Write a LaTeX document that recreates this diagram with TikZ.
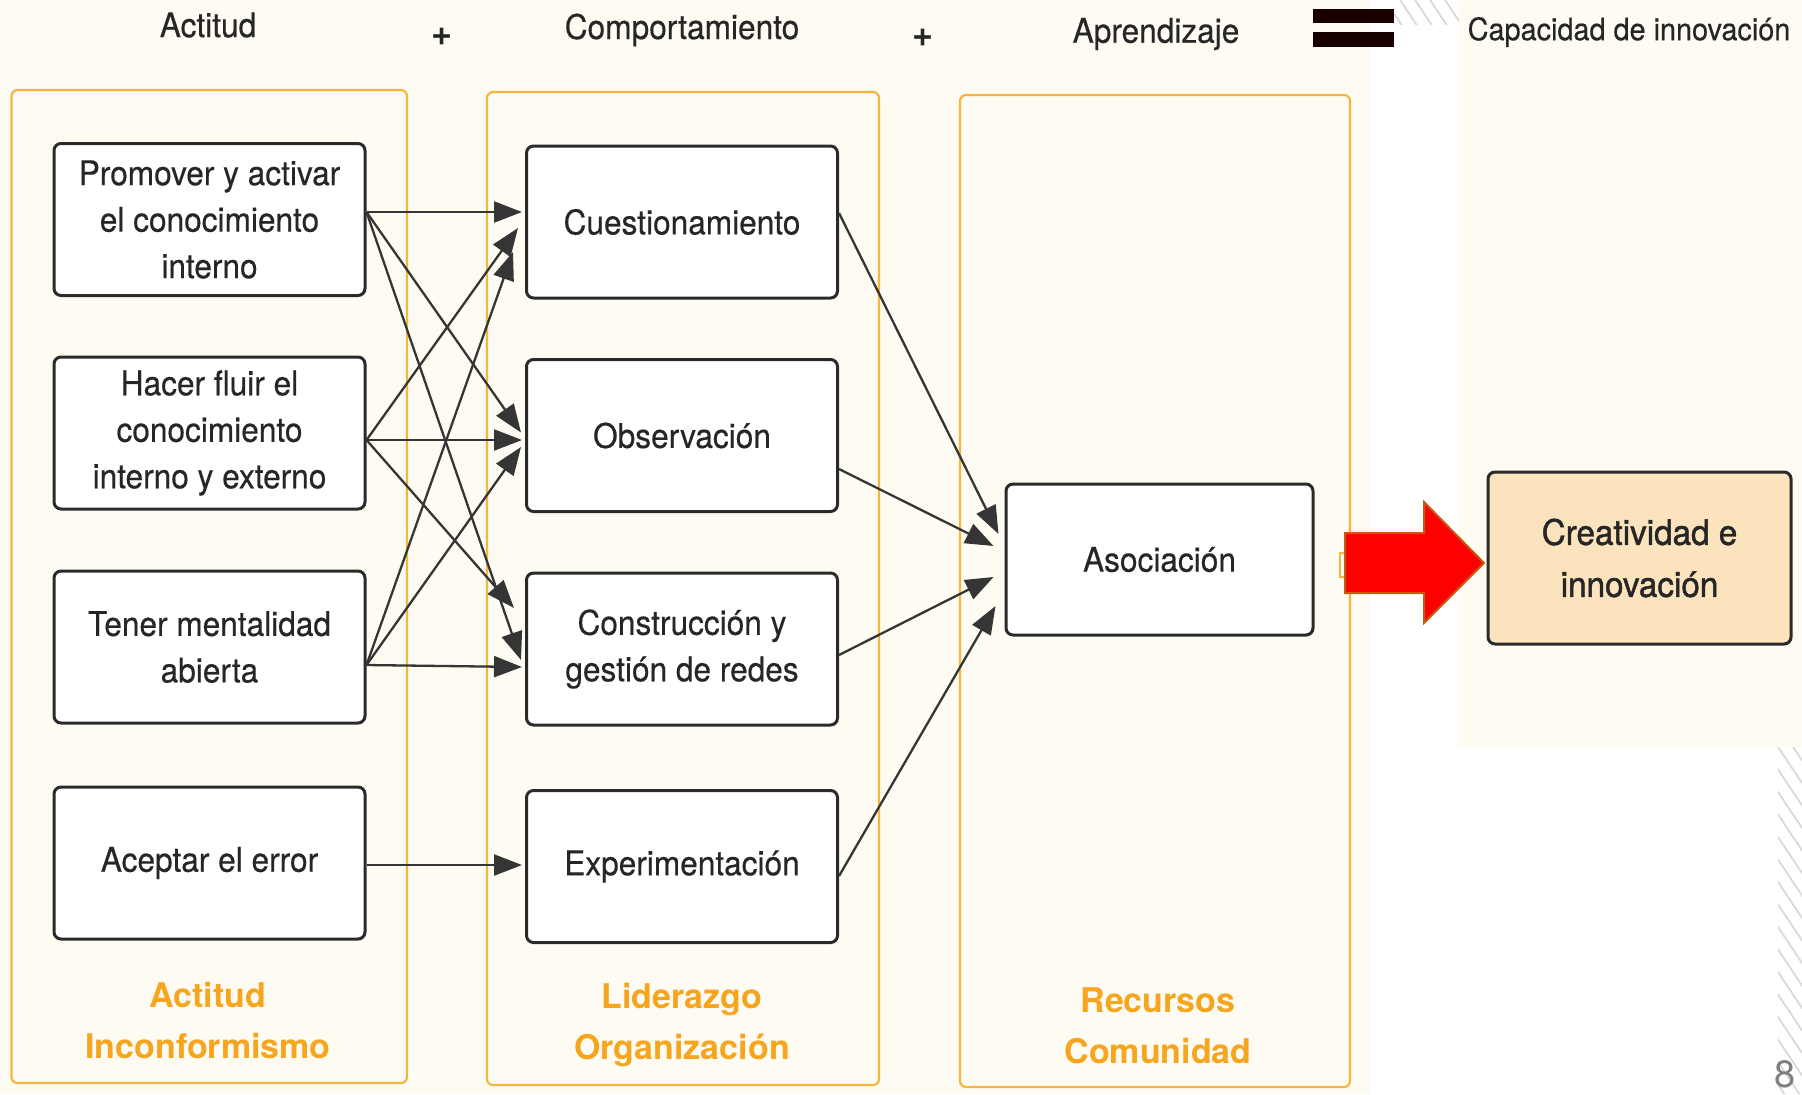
\documentclass[tikz,border=0pt]{standalone}
\usepackage{fontspec}
\setmainfont{TeX Gyre Heros}
\newfontfamily\narrowfont[FakeStretch=0.93,FakeBold=0.4]{TeX Gyre Heros}
\newfontfamily\semibfont[FakeStretch=0.95,FakeBold=1.3]{TeX Gyre Heros}
\usetikzlibrary{arrows.meta,calc}
\definecolor{cream}{HTML}{FEFCF2}
\definecolor{orng}{HTML}{F6B53F}
\definecolor{orngtxt}{HTML}{F6A51F}
\definecolor{boxline}{HTML}{2A2A2A}
\definecolor{arrowc}{HTML}{353535}
\definecolor{peach}{HTML}{FAE3BD}
\definecolor{hatchc}{HTML}{D9D9D9}
\definecolor{txt}{HTML}{262626}
\definecolor{redarrow}{HTML}{FF0000}
\definecolor{redborder}{HTML}{C55A11}
\begin{document}
\begin{tikzpicture}[x=0.5pt,y=-0.5pt,
  container/.style={rectangle,draw=orng,line width=1.1pt,rounded corners=3pt,inner sep=0pt},
  itembox/.style={rectangle,draw=boxline,line width=1.5pt,rounded corners=3.5pt,fill=white,
    minimum width=155.5pt,minimum height=76pt,inner sep=0pt,align=center,text=txt,
    font=\narrowfont\fontsize{17}{23.25}\selectfont},
  header/.style={text=txt,inner sep=0pt,font=\narrowfont\fontsize{17}{19}\selectfont},
  plus/.style={text=txt,inner sep=0pt,font=\bfseries\fontsize{18}{20}\selectfont},
  colabel/.style={text=orngtxt,inner sep=0pt,align=center,font=\bfseries\fontsize{17}{25.5}\selectfont},
  arr/.style={draw=arrowc,line width=1.15pt,-{Triangle[length=14pt,width=10.5pt]}}]

% backgrounds
\fill[white] (0,0) rectangle (1802,1094);
\fill[cream] (0,0) rectangle (1370,1094);
\begin{scope}
  \clip (1394,0) rectangle (1802,25) (1778,0) rectangle (1802,1094);
  \foreach \k in {1040,1055,...,1810} \draw[hatchc,line width=0.9pt] (\k,0) -- ++(740,1110);
\end{scope}
\fill[cream] (1459,0) rectangle (1802,747);

% headers
\node[header] (h1) at (208,25) {Actitud};
\node[plus] (pl1) at (442,37) {+};
\node[header] (h2) at (682,30) {Comportamiento};
\node[plus] (pl2) at (923,38) {+};
\node[header] (h3) at (1156,34) {Aprendizaje};
\node[header,font=\narrowfont\fontsize{15.5}{17}\selectfont] (h4) at (1629,32) {Capacidad de innovación};
\fill[black!90!red] (1313,9) rectangle (1394,23);
\fill[black!90!red] (1313,32) rectangle (1394,47);

% containers
\node[container,minimum width=197.75pt,minimum height=496.5pt] (c1) at (209.25,586.5) {};
\node[container,minimum width=196pt,minimum height=496.5pt] (c2) at (683,588.5) {};
\node[container,minimum width=195pt,minimum height=496pt] (c3) at (1155,591) {};

\node[colabel] (l1) at (208,1020) {Actitud\\Inconformismo};
\node[colabel] (l2) at (682,1025) {Liderazgo\\Organización};
\node[colabel] (l3) at (1158,1026) {Recursos\\Comunidad};

% column 1
\node[itembox] (p1) at (209.5,219.5) {Promover y activar\\el conocimiento\\interno};
\node[itembox] (p2) at (209.5,433) {Hacer fluir el\\conocimiento\\interno y externo};
\node[itembox] (p3) at (209.5,647) {Tener mentalidad\\abierta};
\node[itembox] (p4) at (209.5,863) {Aceptar el error};

% column 2
\node[itembox] (cu) at (682,222) {Cuestionamiento};
\node[itembox] (ob) at (682,435.5) {Observación};
\node[itembox] (co) at (682,649) {Construcción y\\gestión de redes};
\node[itembox] (ex) at (682,866.5) {Experimentación};

% column 3
\node[itembox,minimum width=153.5pt,minimum height=75.5pt] (as) at (1159.5,559.5) {Asociación};

% result
\draw[orng,line width=1pt] (1340,553) rectangle (1352,577);
\draw[redborder,line width=1pt,fill=redarrow] (1345,533) -- (1424,533) -- (1424,502) -- (1484,563)
  -- (1424,623) -- (1424,593) -- (1345,593) -- cycle;
\node[itembox,fill=peach,minimum width=151.5pt,minimum height=86pt,
  font=\semibfont\fontsize{17.5}{26}\selectfont] (cr) at (1639.5,558) {Creatividad e\\innovación};

% arrows col1 -> col2
\draw[arr] ($(p1.east)+(0,-7.5)$) -- ($(cu.west)+(-3,-10)$);
\draw[arr] ($(p1.east)+(0,-7.5)$) -- ($(ob.west)+(-4,-3)$);
\draw[arr] ($(p1.east)+(0,-7.5)$) -- ($(co.west)+(-4,11)$);
\draw[arr] ($(p2.east)+(0,7)$) -- ($(cu.west)+(-7,6)$);
\draw[arr] ($(p2.east)+(0,7)$) -- ($(ob.west)+(-3,4.5)$);
\draw[arr] ($(p2.east)+(0,7)$) -- ($(co.west)+(-11,-41)$);
\draw[arr] ($(p3.east)+(0,18)$) -- ($(cu.west)+(-12,30)$);
\draw[arr] ($(p3.east)+(0,18)$) -- ($(ob.west)+(-4,11.5)$);
\draw[arr] ($(p3.east)+(0,18)$) -- ($(co.west)+(-3,18)$);
\draw[arr] ($(p4.east)+(0,2)$) -- ($(ex.west)+(-3,-1.5)$);

% arrows col2 -> asociacion
\draw[arr] ($(cu.east)+(0,-9)$) -- ($(as.west)+(-6,-25.5)$);
\draw[arr] ($(ob.east)+(0,33.5)$) -- ($(as.west)+(-11,-13.5)$);
\draw[arr] ($(co.east)+(0,6)$) -- ($(as.west)+(-11,17.5)$);
\draw[arr] ($(ex.east)+(0,9.5)$) -- ($(as.west)+(-9,46.5)$);

% page number
\node[text=gray,inner sep=0pt,font=\fontsize{19}{21}\selectfont] (pg) at (1785,1074) {8};
\end{tikzpicture}
\end{document}
